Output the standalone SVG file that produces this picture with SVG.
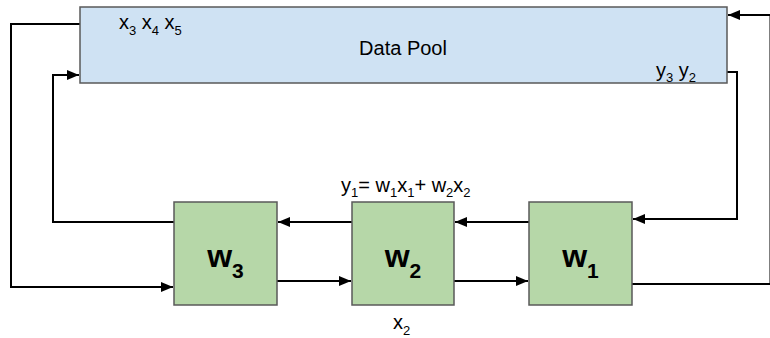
<svg xmlns="http://www.w3.org/2000/svg" width="770" height="338" viewBox="0 0 770 338">
<defs>
<style>
.pool{fill:#cfe2f3;stroke:#595959;stroke-width:1.5}
.box{fill:#b6d7a8;stroke:#595959;stroke-width:1.5}
.conn{fill:none;stroke:#000;stroke-width:2}
.t{font-family:"Liberation Sans",Arial,sans-serif;font-size:20px;fill:#000}
.w{font-family:"Liberation Sans",Arial,sans-serif;font-size:32px;font-weight:bold;fill:#000}
</style>
<marker id="ah" viewBox="0 0 12 10" refX="12" refY="5" markerWidth="12" markerHeight="10" markerUnits="userSpaceOnUse" orient="auto">
<path d="M0,0 L12,5 L0,10 Z" fill="#000"/>
</marker>
</defs>
<rect width="770" height="338" fill="#fff"/>
<g id="connectors">
<path class="conn" d="M80,24 H11 V287 H173" marker-end="url(#ah)"/>
<path class="conn" d="M174,222 H53 V75 H79" marker-end="url(#ah)"/>
<path class="conn" d="M352,222 H278" marker-end="url(#ah)"/>
<path class="conn" d="M529,222 H455" marker-end="url(#ah)"/>
<path class="conn" d="M277,281 H351" marker-end="url(#ah)"/>
<path class="conn" d="M454,281 H528" marker-end="url(#ah)"/>
<path class="conn" d="M727,72 H737 V219 H633" marker-end="url(#ah)"/>
<path class="conn" d="M632,284 H770.5 V15 H728" marker-end="url(#ah)"/>
</g>
<g id="datapool">
<rect class="pool" x="80" y="7" width="647" height="76"/>
<text class="t" x="119" y="29">x<tspan dy="6" font-size="13">3</tspan><tspan dy="-6"> x</tspan><tspan dy="6" font-size="13">4</tspan><tspan dy="-6"> x</tspan><tspan dy="6" font-size="13">5</tspan></text>
<text class="t" x="403" y="55" text-anchor="middle">Data Pool</text>
<text class="t" x="656" y="77">y<tspan dy="5" font-size="13">3</tspan><tspan dy="-5"> y</tspan><tspan dy="5" font-size="13">2</tspan></text>
</g>
<g id="w3">
<rect class="box" x="174" y="202" width="103" height="103"/>
<text class="w" x="225.5" y="267" text-anchor="middle">w<tspan dy="11" font-size="21">3</tspan></text>
</g>
<g id="w2">
<rect class="box" x="352" y="202" width="102" height="103"/>
<text class="w" x="403" y="267" text-anchor="middle">w<tspan dy="11" font-size="21">2</tspan></text>
</g>
<g id="w1">
<rect class="box" x="529" y="202" width="103" height="103"/>
<text class="w" x="580.5" y="267" text-anchor="middle">w<tspan dy="11" font-size="21">1</tspan></text>
</g>
<g id="labels">
<text class="t" x="341" y="192">y<tspan dy="5" font-size="13">1</tspan><tspan dy="-5">= w</tspan><tspan dy="5" font-size="13">1</tspan><tspan dy="-5">x</tspan><tspan dy="5" font-size="13">1</tspan><tspan dy="-5">+ w</tspan><tspan dy="5" font-size="13">2</tspan><tspan dy="-5">x</tspan><tspan dy="5" font-size="13">2</tspan></text>
<text class="t" x="393" y="329">x<tspan dy="6" font-size="13">2</tspan></text>
</g>
</svg>
